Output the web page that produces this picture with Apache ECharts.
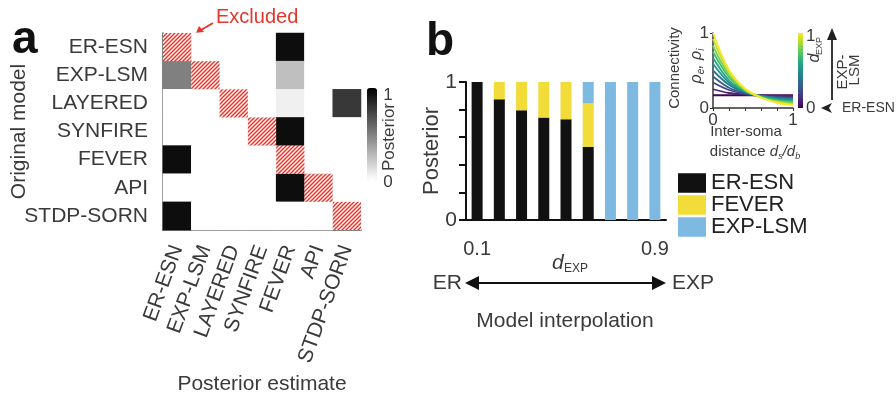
<!DOCTYPE html>
<html>
<head>
<meta charset="utf-8">
<script src="https://cdn.jsdelivr.net/npm/echarts@6/dist/echarts.min.js"></script>
<style>
  html, body { margin: 0; padding: 0; background: #fff; }
  #chart { width: 896px; height: 399px; }
</style>
</head>
<body>
<div id="chart"></div>
<script>
// panel a: posterior of estimated model given original model (null = excluded)
var models = ['ER-ESN', 'EXP-LSM', 'LAYERED', 'SYNFIRE', 'FEVER', 'API', 'STDP-SORN'];
var posterior = [
  [null, 0, 0, 0, 0.95, 0, 0],
  [0.5, null, 0, 0, 0.25, 0, 0],
  [0, 0, null, 0, 0.06, 0, 0.78],
  [0, 0, 0, null, 0.95, 0, 0],
  [0.95, 0, 0, 0, null, 0, 0],
  [0, 0, 0, 0, 0.95, null, 0],
  [0.95, 0, 0, 0, 0, 0, null]
];

// panel b: stacked posterior along the ER -> EXP interpolation
var dExp = ['0.1', '0.2', '0.3', '0.4', '0.5', '0.6', '0.7', '0.8', '0.9'];
var erEsn = [1, 0.875, 0.795, 0.742, 0.73, 0.53, 0, 0, 0];
var fever = [0, 0.125, 0.205, 0.258, 0.27, 0.315, 0, 0, 0];
var expLsm = [0, 0, 0, 0, 0, 0.155, 1, 1, 1];

// inset: connectivity vs inter-soma distance, one curve per d_EXP
var distX = [0, 0.2, 0.4, 0.6, 0.8, 1];
var curveD = [0, 0.1, 0.2, 0.3, 0.4, 0.5, 0.6, 0.7, 0.8, 0.9, 1];
var curves = [
  [0.17, 0.17, 0.17, 0.17, 0.17, 0.17],
  [0.25, 0.20, 0.18, 0.17, 0.16, 0.16],
  [0.34, 0.24, 0.19, 0.16, 0.15, 0.14],
  [0.42, 0.27, 0.20, 0.16, 0.14, 0.13],
  [0.50, 0.31, 0.21, 0.16, 0.13, 0.12],
  [0.59, 0.34, 0.22, 0.16, 0.12, 0.11],
  [0.67, 0.37, 0.22, 0.15, 0.11, 0.09],
  [0.75, 0.41, 0.23, 0.15, 0.10, 0.08],
  [0.83, 0.44, 0.24, 0.14, 0.09, 0.07],
  [0.92, 0.48, 0.25, 0.14, 0.08, 0.05],
  [1.00, 0.51, 0.26, 0.14, 0.07, 0.04]
];
var viridis = ['#440154', '#482475', '#414487', '#355f8d', '#2a788e', '#21918c',
               '#22a884', '#44bf70', '#7ad151', '#bddf26', '#fde725'];

var FONT = '"Liberation Sans", Arial, sans-serif';
var TXT = '#3a3a3a';
var RED = '#e5362c';

var myChart = echarts.init(document.getElementById('chart'));

// heatmap cells
var heatData = [];
for (var r = 0; r < posterior.length; r++) {
  for (var c = 0; c < posterior[r].length; c++) {
    if (posterior[r][c] !== null) heatData.push([c, r, posterior[r][c]]);
  }
}
var excluded = models.map(function (m, i) { return [i, i]; });

// red hatch pattern for excluded cells
var hatch = document.createElement('canvas');
hatch.width = 4; hatch.height = 4;
(function () {
  var ctx = hatch.getContext('2d');
  ctx.fillStyle = '#fff';
  ctx.fillRect(0, 0, 4, 4);
  ctx.strokeStyle = RED;
  ctx.lineWidth = 1.5;
  ctx.beginPath();
  ctx.moveTo(0, 4); ctx.lineTo(4, 0);
  ctx.moveTo(-2, 2); ctx.lineTo(2, -2);
  ctx.moveTo(2, 6); ctx.lineTo(6, 2);
  ctx.stroke();
})();

function txt(x, y, s, size, opt) {
  opt = opt || {};
  return {
    type: 'text', x: x, y: y, rotation: opt.rotation || 0, silent: true,
    style: {
      text: s, fill: opt.color || TXT, fontSize: size, fontFamily: FONT,
      fontWeight: opt.weight || 'normal', fontStyle: opt.italic ? 'italic' : 'normal',
      align: opt.align || 'center', verticalAlign: 'middle', rich: opt.rich
    }
  };
}
function tri(points, color) {
  return { type: 'polygon', silent: true, shape: { points: points }, style: { fill: color || '#111' } };
}
function seg(x1, y1, x2, y2, color, w) {
  return { type: 'line', silent: true, shape: { x1: x1, y1: y1, x2: x2, y2: y2 },
           style: { stroke: color || '#111', lineWidth: w || 2 } };
}

var lineSeries = curves.map(function (ys, k) {
  return {
    name: 'd' + curveD[k], type: 'line', xAxisIndex: 2, yAxisIndex: 2,
    showSymbol: false, smooth: 0.35, silent: true,
    lineStyle: { color: viridis[k], width: 1.8 },
    data: ys.map(function (y, j) { return [distX[j], y]; })
  };
});

var option = {
  animation: false,
  textStyle: { fontFamily: FONT },
  grid: [
    { left: 163, top: 33, width: 198, height: 197 },
    { left: 466, top: 82, width: 200, height: 138 },
    { left: 713, top: 33, width: 80, height: 75 }
  ],
  xAxis: [
    {
      type: 'category', gridIndex: 0, data: models,
      axisLine: { lineStyle: { color: '#555', width: 1.5 } },
      axisTick: { alignWithLabel: true, length: 7, lineStyle: { color: '#555', width: 1.5 } },
      axisLabel: { rotate: 70, fontSize: 21, color: TXT, margin: 16, interval: 0 },
      name: 'Posterior estimate', nameLocation: 'middle', nameGap: 144, nameMoveOverlap: false,
      nameTextStyle: { fontSize: 21, color: TXT }
    },
    {
      type: 'category', gridIndex: 1, data: dExp,
      axisLine: { lineStyle: { color: '#111', width: 2 } },
      axisTick: { alignWithLabel: true, length: 7, lineStyle: { color: '#111', width: 2 } },
      axisLabel: {
        fontSize: 20, color: TXT, margin: 19, interval: 0,
        formatter: function (v, i) { return (i === 0 || i === dExp.length - 1) ? v : ''; }
      }
    },
    {
      type: 'value', gridIndex: 2, min: 0, max: 1, interval: 0.2,
      axisLine: { lineStyle: { color: '#333', width: 1.5 } },
      axisTick: { length: 3, lineStyle: { color: '#333' } },
      splitLine: { show: false },
      axisLabel: {
        fontSize: 17, color: TXT, margin: 4,
        formatter: function (v) { return (v === 0 || v === 1) ? v : ''; }
      }
    }
  ],
  yAxis: [
    {
      type: 'category', gridIndex: 0, data: models, inverse: true,
      axisLine: { lineStyle: { color: '#555', width: 1.5 } },
      axisTick: { alignWithLabel: true, length: 8, lineStyle: { color: '#555', width: 1.5 } },
      axisLabel: { fontSize: 21, color: TXT, margin: 15 },
      name: 'Original model', nameLocation: 'middle', nameGap: 133, nameMoveOverlap: false,
      nameTextStyle: { fontSize: 21, color: TXT }
    },
    {
      type: 'value', gridIndex: 1, min: 0, max: 1, interval: 0.2,
      axisLine: { show: true, lineStyle: { color: '#111', width: 2 } },
      axisTick: { show: true, length: 7, lineStyle: { color: '#111', width: 2 } },
      splitLine: { show: false },
      axisLabel: {
        fontSize: 21, color: TXT, margin: 9,
        formatter: function (v) { return (v === 0 || v === 1) ? v : ''; }
      },
      name: 'Posterior', nameLocation: 'middle', nameGap: 23, nameMoveOverlap: false,
      nameTextStyle: { fontSize: 22, color: TXT }
    },
    {
      type: 'value', gridIndex: 2, min: 0, max: 1, interval: 1,
      axisLine: { show: true, lineStyle: { color: '#333', width: 1.5 } },
      axisTick: { show: true, length: 3, lineStyle: { color: '#333' } },
      splitLine: { show: false },
      axisLabel: { fontSize: 17, color: TXT, margin: 4 }
    }
  ],
  visualMap: {
    type: 'continuous', seriesIndex: 0, min: 0, max: 1, calculable: false,
    inRange: { color: ['#ffffff', '#000000'] },
    left: 367, top: 88, itemWidth: 10, itemHeight: 92, padding: 0,
    text: null, showLabel: false
  },
  legend: {
    data: ['ER-ESN', 'FEVER', 'EXP-LSM'],
    orient: 'vertical', left: 678, top: 172, padding: 0,
    itemWidth: 28, itemHeight: 19.5, itemGap: 0, icon: 'rect',
    selectedMode: false,
    textStyle: { fontSize: 22, color: '#222', lineHeight: 19.5 }
  },
  series: [
    {
      type: 'heatmap', xAxisIndex: 0, yAxisIndex: 0, data: heatData, silent: true,
      itemStyle: { borderWidth: 0 }
    },
    {
      type: 'custom', xAxisIndex: 0, yAxisIndex: 0, data: excluded, silent: true,
      renderItem: function (params, api) {
        var p = api.coord([api.value(0), api.value(1)]);
        var s = api.size([1, 1]);
        return {
          type: 'rect',
          shape: { x: p[0] - s[0] / 2, y: p[1] - s[1] / 2, width: s[0], height: s[1] },
          style: { fill: { image: hatch, repeat: 'repeat' } }
        };
      }
    },
    { name: 'ER-ESN', type: 'bar', stack: 'post', xAxisIndex: 1, yAxisIndex: 1,
      barWidth: 11, data: erEsn, itemStyle: { color: '#111111' }, silent: true },
    { name: 'FEVER', type: 'bar', stack: 'post', xAxisIndex: 1, yAxisIndex: 1,
      barWidth: 11, data: fever, itemStyle: { color: '#f2dc3a' }, silent: true },
    { name: 'EXP-LSM', type: 'bar', stack: 'post', xAxisIndex: 1, yAxisIndex: 1,
      barWidth: 11, data: expLsm, itemStyle: { color: '#7db9e0' }, silent: true }
  ].concat(lineSeries),
  graphic: [
    // panel letters
    txt(12, 40, 'a', 46, { weight: 'bold', align: 'left', color: '#111' }),
    txt(426, 42, 'b', 46, { weight: 'bold', align: 'left', color: '#111' }),
    // "Excluded" callout
    txt(216, 17, 'Excluded', 20, { align: 'left', color: RED }),
    seg(213, 23, 201, 30, RED, 2),
    tri([[196, 33], [199, 26], [204, 32]], RED),
    // heatmap colorbar labels
    txt(388, 95, '1', 17),
    txt(388, 182, '0', 17),
    txt(389, 137, 'Posterior', 17, { rotation: Math.PI / 2 }),
    // d_EXP under bars
    txt(552, 263, 'd', 21, { italic: true, align: 'left' }),
    txt(564, 269, 'EXP', 12, { align: 'left' }),
    // ER <-> EXP arrow
    seg(476, 283, 655, 283, '#111', 2),
    tri([[465, 283], [479, 276], [479, 290]]),
    tri([[666, 283], [652, 276], [652, 290]]),
    txt(462, 283, 'ER', 21, { align: 'right' }),
    txt(672, 283, 'EXP', 21, { align: 'left' }),
    txt(565, 321, 'Model interpolation', 21),
    // inset labels
    txt(675, 68, 'Connectivity', 15, { rotation: Math.PI / 2 }),
    txt(697, 66, '{i|ρ}{s|e}{i|, ρ}{s|i}', 15, {
      rotation: Math.PI / 2,
      rich: {
        i: { fontSize: 16, fontStyle: 'italic', fontFamily: FONT, fill: TXT, lineHeight: 18 },
        s: { fontSize: 10, fontStyle: 'italic', fontFamily: FONT, fill: TXT, lineHeight: 10, verticalAlign: 'bottom' }
      }
    }),
    txt(746, 132, 'Inter-soma', 15),
    txt(755, 152, '{n|distance }{i|d}{s|s}{i|/d}{s|b}', 15, {
      rich: {
        n: { fontSize: 15, fontFamily: FONT, fill: TXT, lineHeight: 18 },
        i: { fontSize: 15, fontStyle: 'italic', fontFamily: FONT, fill: TXT, lineHeight: 18 },
        s: { fontSize: 9, fontStyle: 'italic', fontFamily: FONT, fill: TXT, lineHeight: 9, verticalAlign: 'bottom' }
      }
    }),
    // viridis colorbar for d_EXP
    {
      type: 'rect', silent: true, shape: { x: 798, y: 33, width: 5, height: 75 },
      style: {
        fill: new echarts.graphic.LinearGradient(0, 0, 0, 1, viridis.slice().reverse().map(function (c, i) {
          return { offset: i / (viridis.length - 1), color: c };
        }))
      }
    },
    txt(806, 36, '1', 17, { align: 'left' }),
    txt(806, 108, '0', 17, { align: 'left' }),
    txt(815, 58, 'd', 16, { italic: true, rotation: Math.PI / 2 }),
    txt(820, 46, 'EXP', 9, { rotation: Math.PI / 2 }),
    // arrows to the model ends
    seg(832, 100, 832, 38, '#222', 1.8),
    tri([[832, 28], [827, 40], [837, 40]], '#222'),
    tri([[821, 108], [832, 103], [829, 108], [832, 113]], '#222'),
    txt(842, 108, 'ER-ESN', 14, { align: 'left' }),
    txt(843, 72, 'EXP-', 15, { rotation: Math.PI / 2 }),
    txt(855, 70, 'LSM', 15, { rotation: Math.PI / 2 })
  ]
};

myChart.setOption(option);
</script>
</body>
</html>
